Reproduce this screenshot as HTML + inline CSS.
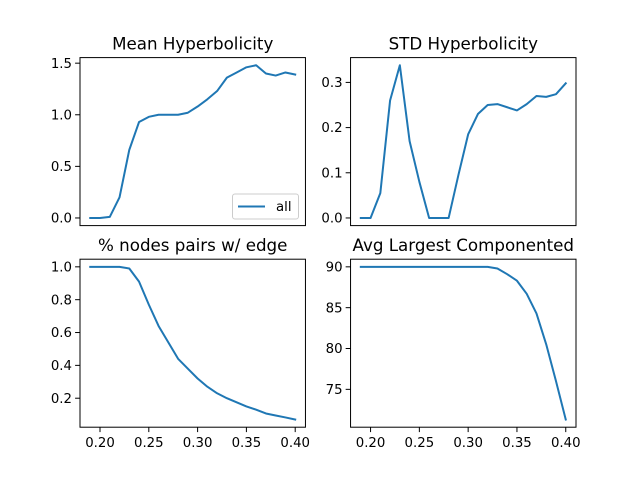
<!DOCTYPE html>
<html><head><meta charset="utf-8"><style>
html,body{margin:0;padding:0;background:#fff;}
svg text{font-family:"DejaVu Sans","Liberation Sans",sans-serif;fill:#000;}
</style></head><body>
<svg id="fig" width="640" height="480" xmlns="http://www.w3.org/2000/svg"></svg>
<script>
const xs = [0.19,0.20,0.21,0.22,0.23,0.24,0.25,0.26,0.27,0.28,0.29,0.30,0.31,0.32,0.33,0.34,0.35,0.36,0.37,0.38,0.39,0.40];
const meanHyp = [0,0,0.01,0.2,0.66,0.93,0.98,1.0,1.0,1.0,1.02,1.08,1.15,1.23,1.36,1.41,1.46,1.48,1.4,1.38,1.41,1.39];
const stdHyp = [0,0,0.055,0.26,0.338,0.17,0.08,0,0,0,0.095,0.185,0.23,0.25,0.252,0.245,0.238,0.252,0.27,0.268,0.274,0.298];
const pctEdge = [1.0,1.0,1.0,1.0,0.99,0.91,0.77,0.64,0.54,0.44,0.38,0.32,0.27,0.23,0.2,0.175,0.15,0.13,0.107,0.095,0.083,0.07];
const avgComp = [90,90,90,90,90,90,90,90,90,90,90,90,90,90,89.8,89.1,88.3,86.7,84.3,80.5,76,71.3];
const xTicks = [0.20,0.25,0.30,0.35,0.40];
const meanTicks = [0.0,0.5,1.0,1.5];
const stdTicks = [0.0,0.1,0.2,0.3];
const pctTicks = [0.2,0.4,0.6,0.8,1.0];
const compTicks = [75,80,85,90];

const NS="http://www.w3.org/2000/svg";
const svg=document.getElementById('fig');
function mk(tag,attrs,parent){const e=document.createElementNS(NS,tag);for(const k in attrs)e.setAttribute(k,attrs[k]);(parent||svg).appendChild(e);return e;}
function lim(a){let mn=Math.min(...a),mx=Math.max(...a),m=(mx-mn)*0.05;return [mn-m,mx+m];}
const W=225.45,H=168;
const panels=[
 {name:'mean-hyperbolicity',title:'Mean Hyperbolicity',x0:80,y0:57.6,ys:meanHyp,ticks:meanTicks,dec:1,xl:false,legend:true},
 {name:'std-hyperbolicity',title:'STD Hyperbolicity',x0:350.55,y0:57.6,ys:stdHyp,ticks:stdTicks,dec:1,xl:false},
 {name:'pct-node-pairs-edge',title:'% nodes pairs w/ edge',x0:80,y0:259.2,ys:pctEdge,ticks:pctTicks,dec:1,xl:true},
 {name:'avg-largest-component',title:'Avg Largest Componented',x0:350.55,y0:259.2,ys:avgComp,ticks:compTicks,dec:0,xl:true}
];
const xl=lim(xs);
panels.forEach(p=>{
 const g=mk('g',{});
 
 
 const yl=lim(p.ys);
 const sx=v=>p.x0+(v-xl[0])/(xl[1]-xl[0])*W;
 const sy=v=>p.y0+H-(v-yl[0])/(yl[1]-yl[0])*H;
 const pts=xs.map((x,i)=>sx(x).toFixed(2)+','+sy(p.ys[i]).toFixed(2)).join(' ');
 const line=mk('polyline',{points:pts,fill:'none',stroke:'#1f77b4','stroke-width':2,'stroke-linejoin':'round','stroke-linecap':'square'},g);
 
 
 const fr=mk('rect',{x:p.x0,y:p.y0,width:W,height:H,fill:'none',stroke:'#000','stroke-width':1},g);
 
 
 p.ticks.forEach(t=>{
  const y=sy(t);
  mk('line',{x1:p.x0-4.9,x2:p.x0,y1:y,y2:y,stroke:'#000','stroke-width':1},g);
  const tx=mk('text',{x:p.x0-8,y:y+4.6,'text-anchor':'end','font-size':'13.3px'},g);
  tx.textContent=t.toFixed(p.dec);
  
  
 });
 if(p.xl){
  xTicks.forEach(t=>{
   const x=sx(t);
   mk('line',{x1:x,x2:x,y1:p.y0+H,y2:p.y0+H+4.9,stroke:'#000','stroke-width':1},g);
   const tx=mk('text',{x:x,y:p.y0+H+20,'text-anchor':'middle','font-size':'13.3px'},g);
   tx.textContent=t.toFixed(2);
   
   
  });
 }
 const ti=mk('text',{x:p.x0+W/2,y:p.y0-8,'text-anchor':'middle','font-size':'16.7px'},g);
 ti.textContent=p.title;
 
 
 if(p.legend){
  const lg=mk('g',{},g);
  
  
  mk('rect',{x:232.5,y:194,width:66,height:25,rx:2.5,fill:'#fff','fill-opacity':0.8,stroke:'#ccc','stroke-width':1},lg);
  mk('line',{x1:238,x2:265,y1:206.5,y2:206.5,stroke:'#1f77b4','stroke-width':2},lg);
  const lt=mk('text',{x:276,y:211.2,'font-size':'13.3px'},lg);
  lt.textContent='all';
  
  
 }
});
</script>
</body></html>
